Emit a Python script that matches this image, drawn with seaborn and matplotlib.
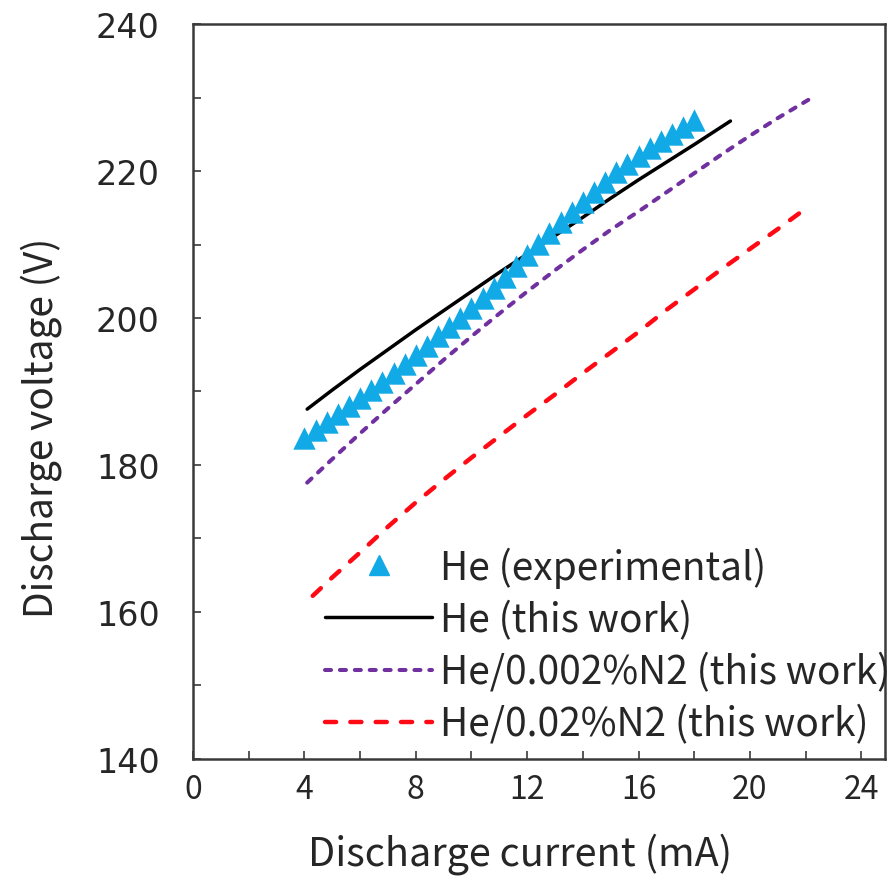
import numpy as np
import pandas as pd
import matplotlib
matplotlib.use("Agg")
import matplotlib.pyplot as plt
from matplotlib.lines import Line2D
from matplotlib.ticker import MultipleLocator
import seaborn as sns

# ---------------- data ----------------
exp_current = [4.0, 4.4, 4.8, 5.2, 5.6, 6.0, 6.4, 6.8, 7.2, 7.6, 8.0, 8.4,
               8.8, 9.2, 9.6, 10.0, 10.4, 10.8, 11.2, 11.6, 12.0, 12.4, 12.8,
               13.2, 13.6, 14.0, 14.4, 14.8, 15.2, 15.6, 16.0, 16.4, 16.8,
               17.2, 17.6, 18.0]
exp_voltage = [183.7, 184.8, 185.8, 186.9, 188.0, 189.1, 190.2, 191.3, 192.5,
               193.7, 194.9, 196.2, 197.5, 198.8, 200.0, 201.3, 202.7, 204.1,
               205.6, 207.1, 208.6, 210.1, 211.5, 213.0, 214.4, 215.8, 217.2,
               218.5, 219.8, 221.0, 222.1, 223.1, 224.1, 225.1, 226.0, 227.0]

he_current = [4.1, 5, 6, 7, 8, 9, 10, 11, 12, 13, 14, 15, 16, 17, 18, 19.3]
he_voltage = [187.6, 190.2, 193.0, 195.7, 198.4, 201.0, 203.6, 206.2, 208.7,
              211.2, 213.7, 216.3, 218.8, 221.2, 223.6, 226.8]

n2a_current = [4.1, 5, 6, 7, 8, 9, 10, 11, 12, 13, 14, 15, 16, 17, 18, 19,
               20, 21, 22.15]
n2a_voltage = [177.6, 180.8, 184.3, 187.7, 191.0, 194.3, 197.5, 200.6, 203.6,
               206.5, 209.3, 212.0, 214.5, 217.1, 219.7, 222.3, 224.8, 227.2,
               229.8]

n2b_current = [4.3, 5, 6, 7, 8, 9, 10, 11, 12, 13, 14, 15, 16, 17, 18, 19,
               20, 21, 22.15]
n2b_voltage = [162.2, 164.7, 168.1, 171.6, 174.9, 178.0, 181.0, 183.9, 186.8,
               189.6, 192.5, 195.3, 198.1, 201.1, 203.9, 206.7, 209.4, 212.1,
               215.3]

labels = ["He (experimental)", "He (this work)",
          "He/0.002%N2 (this work)", "He/0.02%N2 (this work)"]
x_ticks = [0, 4, 8, 12, 16, 20, 24]
y_ticks = [140, 160, 180, 200, 220, 240]

# ---------------- style ----------------
sns.set_style("ticks")
plt.rcParams['font.family'] = ['Noto Sans CJK JP', 'DejaVu Sans']

c_exp = "#12AAE6"
c_he = "#000000"
c_n2a = "#7030A0"
c_n2b = "#FF0A14"

lw_he, lw_a, lw_b = 2.5, 2.9, 3.2
dash_a = [1.5, 2.2]
dash_b = [2.5, 3.2]

fig = plt.figure(figsize=(8.89, 8.87), dpi=100)
ax = fig.add_axes([0.2171, 0.1432, 0.9955 - 0.2171, 0.9718 - 0.1432])

df_he = pd.DataFrame({"I": he_current, "V": he_voltage})
df_a = pd.DataFrame({"I": n2a_current, "V": n2a_voltage})
df_b = pd.DataFrame({"I": n2b_current, "V": n2b_voltage})
df_exp = pd.DataFrame({"I": exp_current, "V": exp_voltage})

sns.lineplot(data=df_b, x="I", y="V", ax=ax, color=c_n2b, lw=lw_b,
             sort=False, zorder=2)
ax.lines[-1].set_dashes(dash_b)
ax.lines[-1].set_dash_capstyle('round')
sns.lineplot(data=df_a, x="I", y="V", ax=ax, color=c_n2a, lw=lw_a,
             sort=False, zorder=2)
ax.lines[-1].set_dashes(dash_a)
ax.lines[-1].set_dash_capstyle('round')
sns.lineplot(data=df_he, x="I", y="V", ax=ax, color=c_he, lw=lw_he,
             sort=False, zorder=3)
sns.scatterplot(data=df_exp, x="I", y="V", ax=ax, color=c_exp, marker="^",
                s=260, linewidth=0, zorder=4)

ax.set_xlim(0, 24.85)
ax.set_ylim(140, 240)
ax.set_xticks(x_ticks)
ax.set_yticks(y_ticks)
ax.xaxis.set_minor_locator(MultipleLocator(2))
ax.yaxis.set_minor_locator(MultipleLocator(10))

for sp in ax.spines.values():
    sp.set_color("#3a3a3a")
    sp.set_linewidth(1.8)

ax.tick_params(axis='both', which='both', direction='in', length=6,
               width=1.2, color="#3a3a3a")
ax.tick_params(axis='y', which='major', pad=24, labelsize=24,
               labelfontfamily='DejaVu Sans')
ax.tick_params(axis='x', which='major', pad=10, labelsize=23)

ax.set_xlabel("Discharge current (mA)", fontsize=28.5)
ax.set_ylabel("Discharge voltage (V)", fontsize=28)
ax.xaxis.set_label_coords(0.4725, -0.10)
ax.yaxis.set_label_coords(-0.19, 0.452)

handles = [
    Line2D([], [], color=c_exp, marker="^", markersize=14, lw=0),
    Line2D([], [], color=c_he, lw=lw_he),
    Line2D([], [], color=c_n2a, lw=lw_a, dashes=dash_a,
           dash_capstyle='round'),
    Line2D([], [], color=c_n2b, lw=lw_b, dashes=dash_b,
           dash_capstyle='round'),
]
leg = ax.legend(handles, labels, loc="lower left",
                bbox_to_anchor=(0.152, -0.017), frameon=False, fontsize=28,
                handlelength=2.75, handletextpad=0.2, labelspacing=0.31,
                borderaxespad=0.3)

fig.savefig("out.png", dpi=100)
